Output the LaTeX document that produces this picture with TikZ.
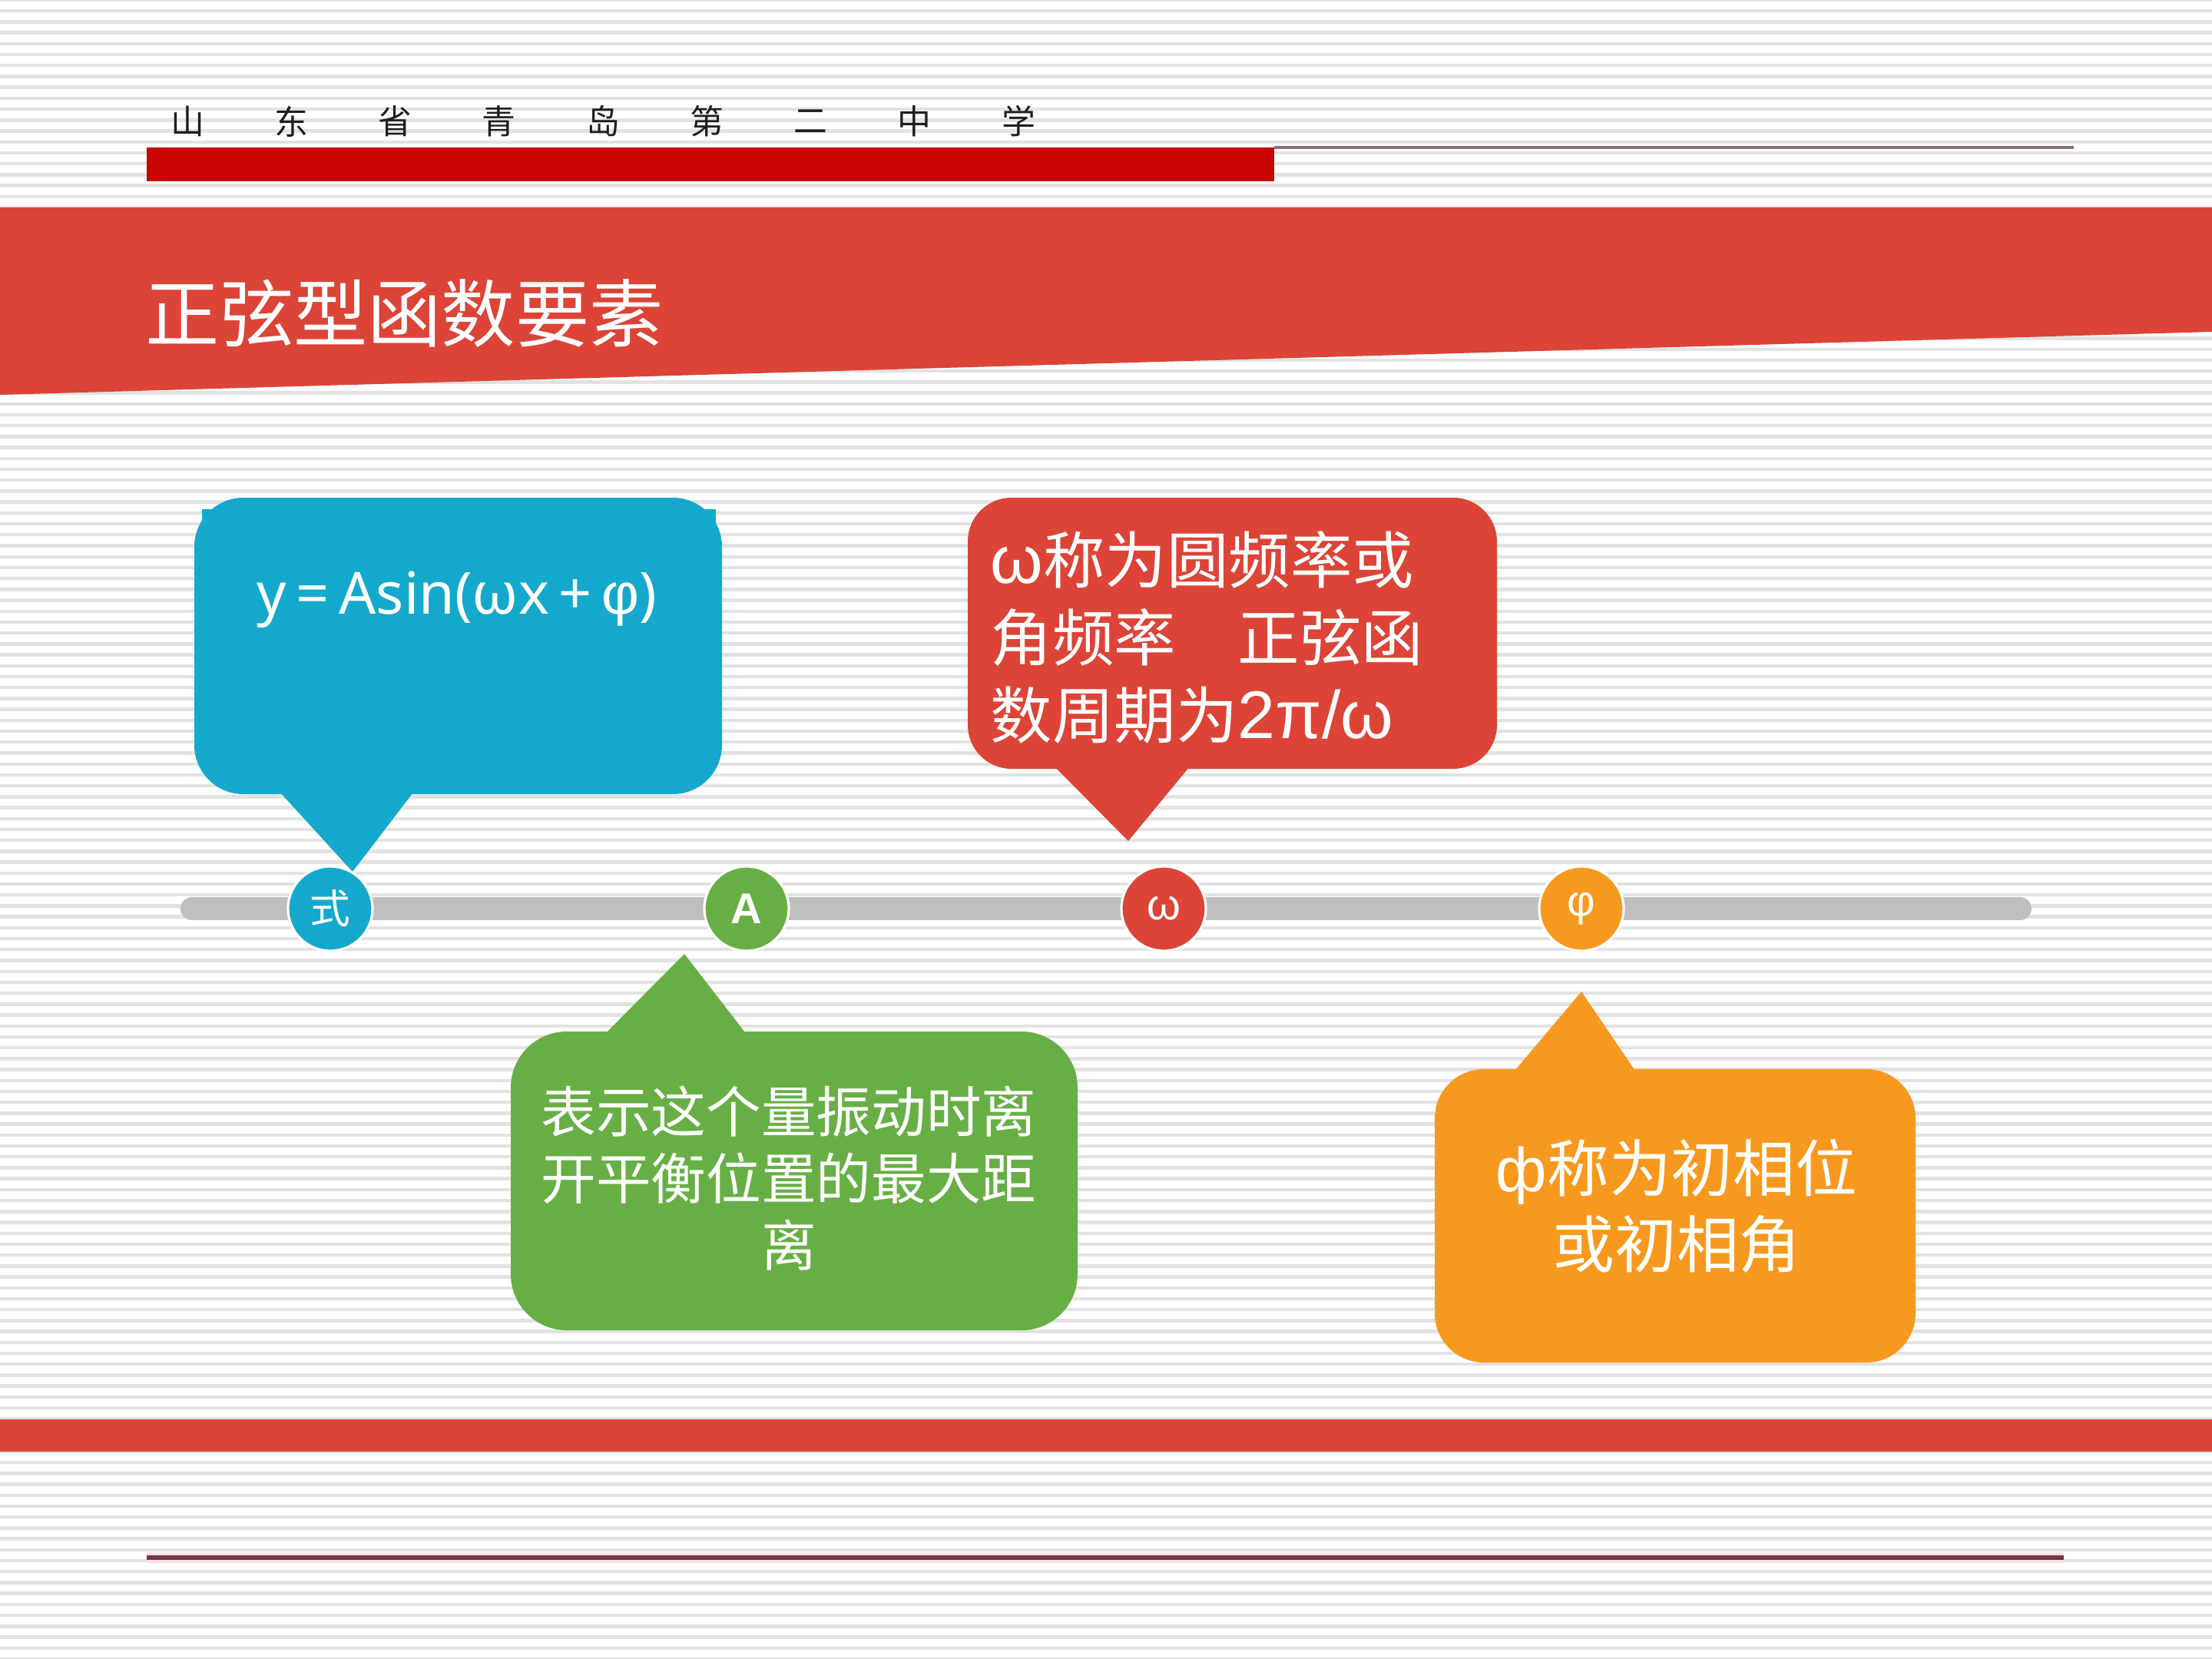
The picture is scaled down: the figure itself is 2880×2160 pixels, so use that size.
\documentclass[tikz,border=0pt]{standalone}
\usepackage{fontspec}
\setmainfont{Liberation Serif}
\newfontfamily\cjk{Noto Sans CJK SC}
\newfontfamily\latinsans{Noto Sans}
\newfontfamily\arial{Liberation Sans}
\definecolor{bannerred}{RGB}{219,68,55}
\definecolor{darkred}{RGB}{200,4,4}
\definecolor{thinline}{RGB}{140,112,112}
\definecolor{cblue}{RGB}{20,169,204}
\definecolor{cgreen}{RGB}{103,175,69}
\definecolor{corange}{RGB}{247,153,31}
\definecolor{barg}{RGB}{191,191,191}
\definecolor{stripe}{RGB}{226,226,226}
\definecolor{maroon}{RGB}{112,58,66}
\definecolor{pinkfringe}{RGB}{250,225,228}
\definecolor{headtext}{RGB}{30,30,30}
\tikzset{
  bubble/.style={rectangle, inner sep=0pt, draw=none},
  dot/.style={circle, draw=white, line width=0.9pt, minimum size=11mm, inner sep=0pt, text=white},
  wtext/.style={text=white, inner sep=0pt},
  headchar/.style={text=headtext, inner sep=0pt, font=\cjk\fontsize{12.5pt}{14pt}\selectfont},
}
\begin{document}
\begin{tikzpicture}[x=0.1mm,y=-0.1mm]
\useasboundingbox (0,0) rectangle (2880,2160);
\fill[white] (0,0) rectangle (2880,2160);
\foreach \i in {0,...,152} \fill[stripe] (0,{14.21*\i-2.2}) rectangle (2880,{14.21*\i+2.2});

% header
\foreach \c [count=\i from 0] in {山,东,省,青,岛,第,二,中,学}
  \node[headchar] (h\i) at ({244+135.25*\i},158) {\c};
\fill[darkred] (191,192) rectangle (1659,236);
\coordinate (hl1) at (1659,192);
\coordinate (hl2) at (2700,192);
\draw[thinline, line width=1.3pt] (hl1) -- (hl2);

% title banner
\fill[bannerred] (0,270) -- (2880,270) -- (2880,432) -- (0,514) -- cycle;
\node[wtext, anchor=west, font=\cjk\fontsize{27.4pt}{30pt}\selectfont] (title) at (189,408) {正弦型函数要素};

% timeline
\coordinate (tl) at (250,1183);
\coordinate (tr) at (2630,1183);
\draw[barg, line width=3mm, line cap=round] (tl) -- (tr);

% blue callout
\fill[cblue] (263,663) rectangle (932,720);
\node[bubble, fill=cblue, minimum width=68.7mm, minimum height=38.6mm, rounded corners=6.4mm] (bbox) at (596.5,841) {};
\fill[cblue] (354,1020) -- (459,1135) -- (547,1020) -- cycle;
\node[wtext, font=\latinsans\fontsize{21.5pt}{24pt}\selectfont] (btext) at (595,781) {y\,=\,Asin(ωx\,+\,{\arial φ})};

% red callout
\node[bubble, fill=bannerred, minimum width=68.9mm, minimum height=35.3mm, rounded corners=5.7mm] (rbox) at (1604.5,824.5) {};
\fill[bannerred] (1362,987) -- (1469,1095) -- (1558,987) -- cycle;
\node[wtext, anchor=west, align=left, font=\cjk\fontsize{22.9pt}{28.7pt}\selectfont] (rtext) at (1289,830)
  {{\arial\fontsize{25pt}{28.7pt}\selectfont ω}称为圆频率或\\角频率　正弦函\\数周期为{\arial\fontsize{25pt}{28.7pt}\selectfont 2π/ω}};

% green callout
\node[bubble, fill=cgreen, minimum width=73.8mm, minimum height=38.9mm, rounded corners=7.3mm] (gbox) at (1034,1537.5) {};
\fill[cgreen] (777,1357) -- (891,1242) -- (980,1357) -- cycle;
\node[wtext, align=center, font=\cjk\fontsize{20.4pt}{24.7pt}\selectfont] (gtext) at (1027,1534)
  {表示这个量振动时离\\开平衡位置的最大距\\离};

% orange callout
\node[bubble, fill=corange, minimum width=62.6mm, minimum height=38.2mm, rounded corners=6.4mm] (obox) at (2181,1583) {};
\fill[corange] (1962,1406) -- (2059,1291) -- (2137,1406) -- cycle;
\node[wtext, align=center, font=\cjk\fontsize{23pt}{28.2pt}\selectfont] (otext) at (2183,1570)
  {{\arial ф}称为初相位\\或初相角};

% circles
\node[dot, fill=cblue, font=\cjk\fontsize{15pt}{16pt}\selectfont] (c1) at (430,1183) {式};
\node[dot, fill=cgreen, font=\arial\bfseries\fontsize{16pt}{17pt}\selectfont] (c2) at (972,1183) {A};
\node[dot, fill=bannerred, font=\arial\fontsize{16pt}{17pt}\selectfont] (c3) at (1515,1183) {ω};
\node[dot, fill=corange, font=\arial\fontsize{16pt}{17pt}\selectfont] (c4) at (2059,1183) {φ};

% bottom bars
\fill[bannerred] (0,1848) rectangle (2880,1890);
\coordinate (bl1) at (191,2028);
\coordinate (bl2) at (2687,2028);
\draw[pinkfringe, line width=1.4mm] (bl1) -- (bl2);
\draw[maroon, line width=0.6mm] (bl1) -- (bl2);
\end{tikzpicture}
\end{document}
